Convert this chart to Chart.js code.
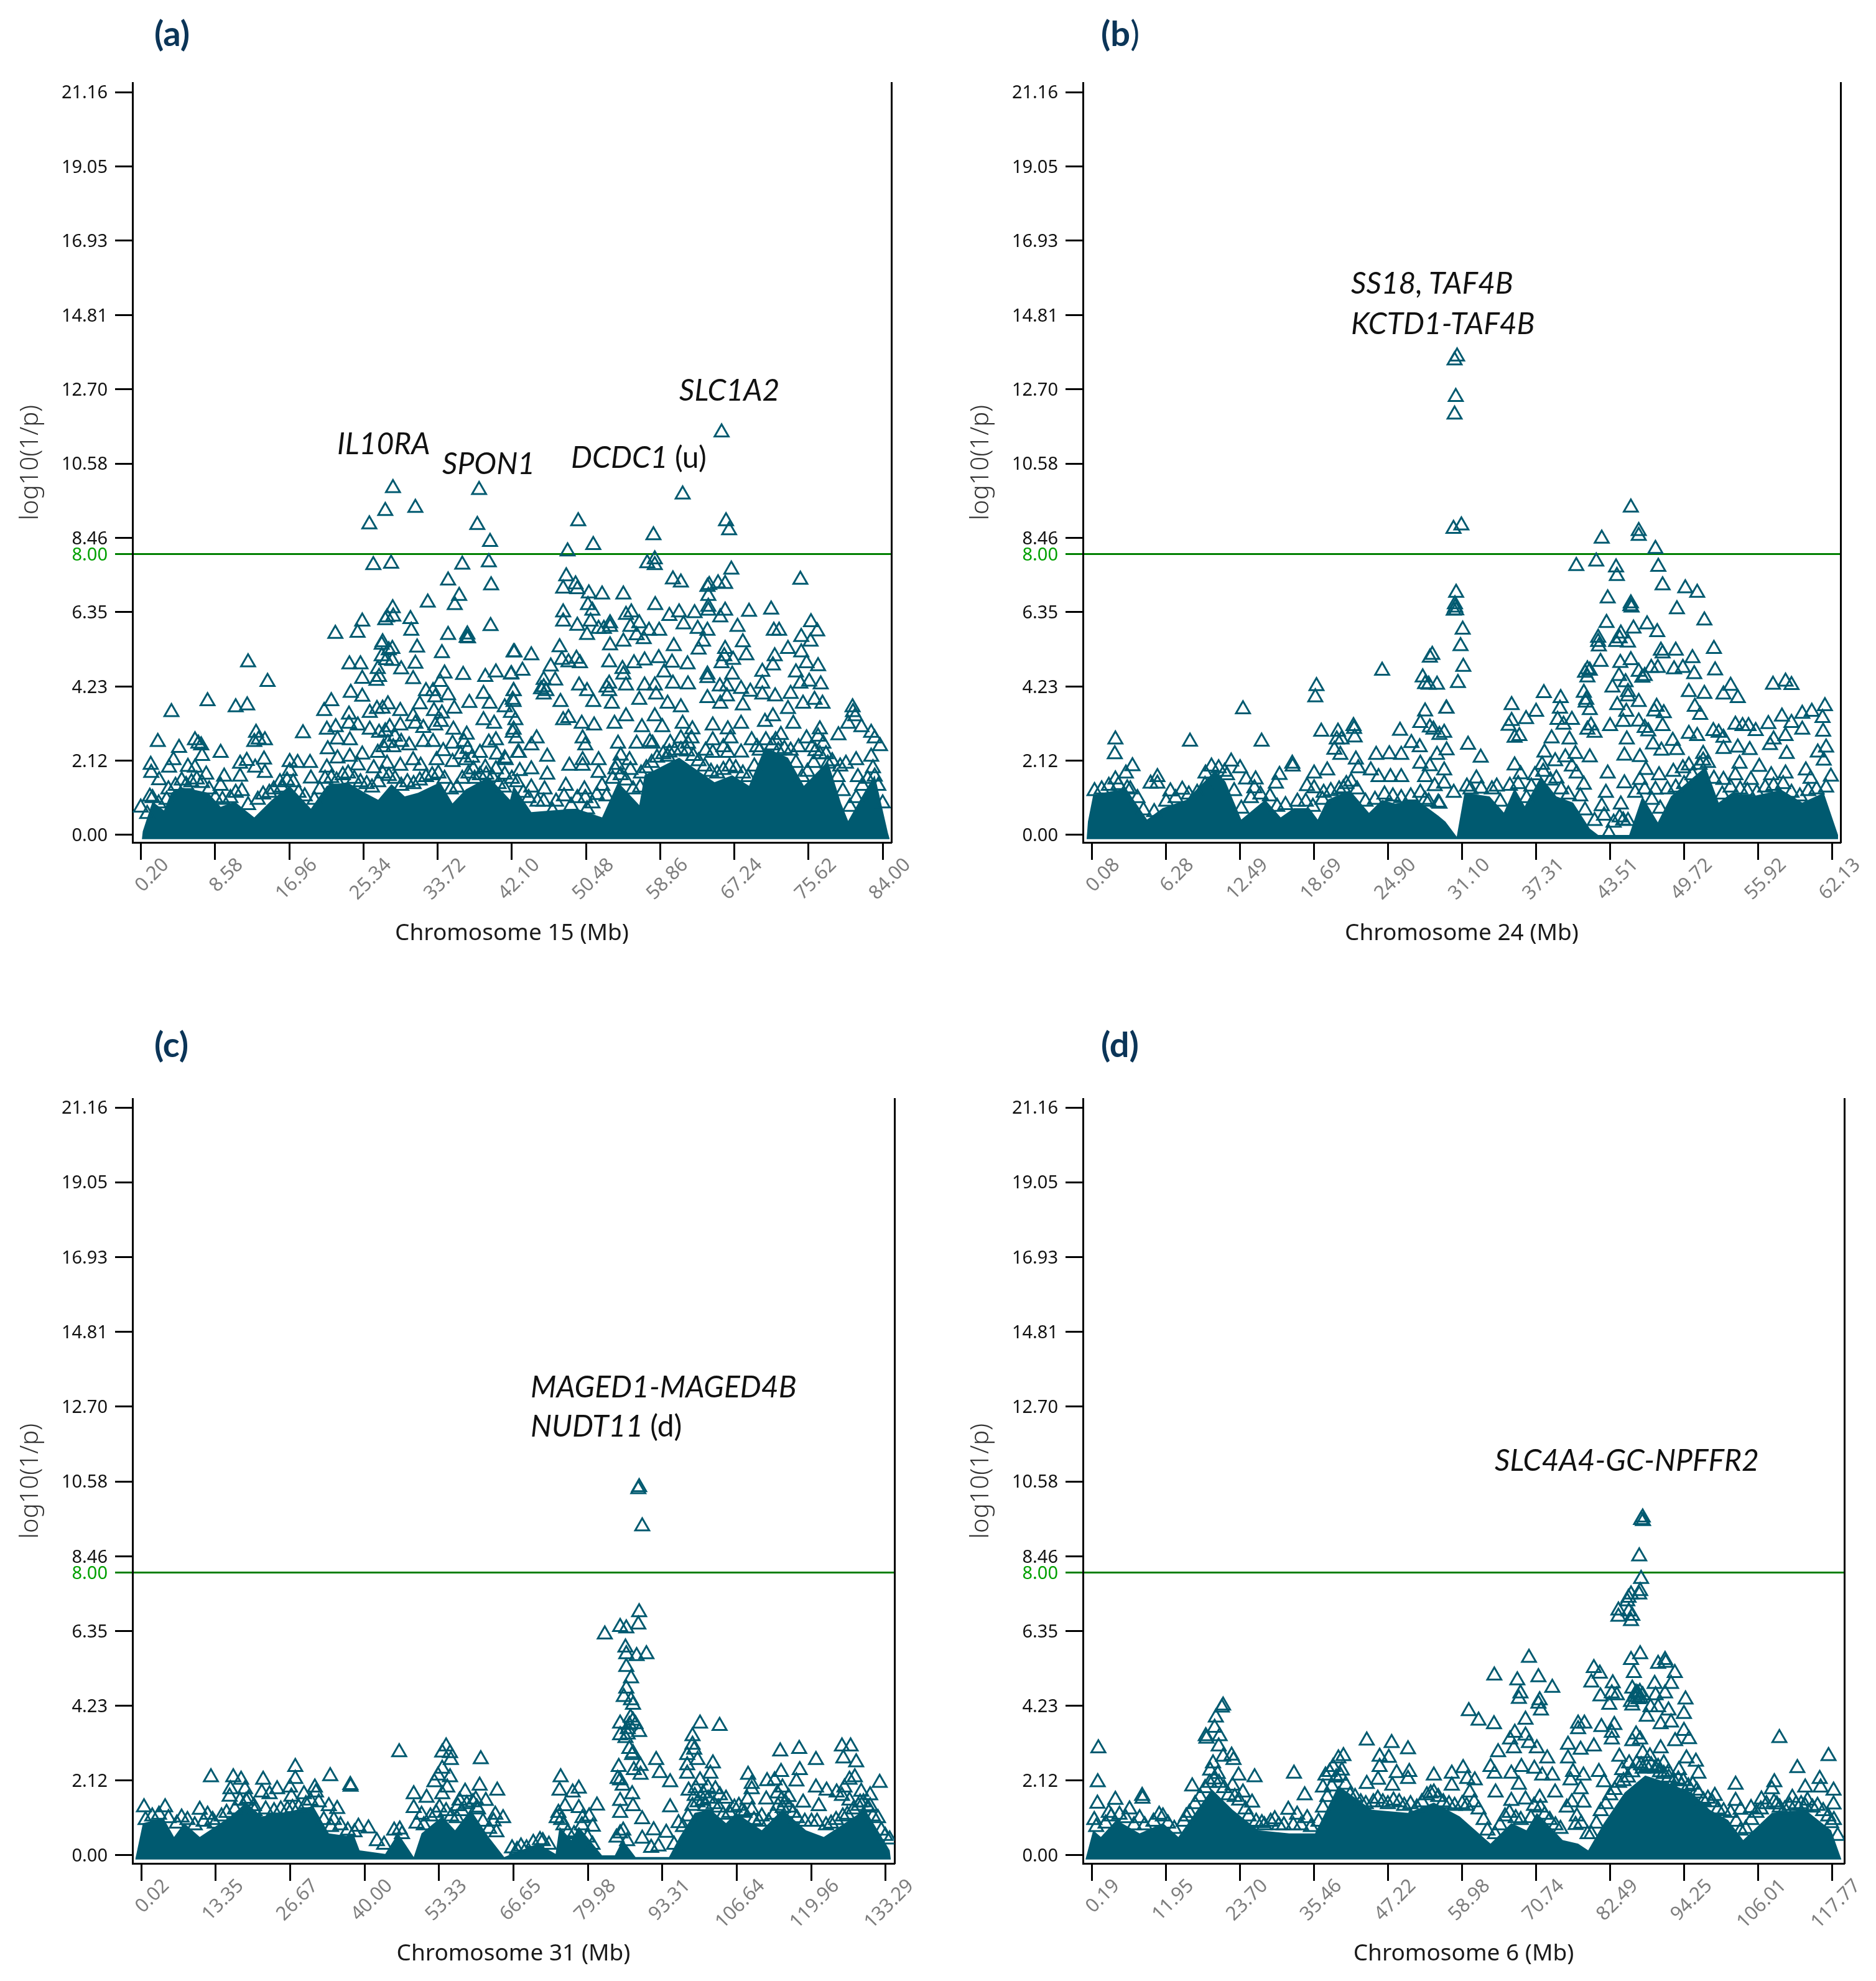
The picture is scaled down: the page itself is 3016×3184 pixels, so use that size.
<!DOCTYPE html>
<html>
<head>
<meta charset="utf-8">
<style>
html, body { margin: 0; background: #fff; }
#page { position: relative; width: 3016px; height: 3184px; overflow: hidden; }
canvas { position: absolute; }
.gene { position: absolute; font: italic 48px Lato, sans-serif; color: #111; white-space: nowrap; transform: translateY(-50%); }
.gene span { font-style: normal; }
.tag { position: absolute; font: bold 56px Lato, sans-serif; color: #0b3558; transform: translateY(-50%); }
.tag span { font-weight: normal; }
</style>
</head>
<body>
<div id="page">
  <canvas id="chartA"></canvas><canvas id="chartB"></canvas><canvas id="chartC"></canvas><canvas id="chartD"></canvas>
  <div class="tag" style="left:248px;top:52px">(a)</div>
  <div class="tag" style="left:1770px;top:52px">(b<span>)</span></div>
  <div class="tag" style="left:248px;top:1677px">(c)</div>
  <div class="tag" style="left:1770px;top:1677px">(d)</div>
  <div class="gene" style="left:542px;top:711px">IL10RA</div>
  <div class="gene" style="left:711px;top:743px">SPON1</div>
  <div class="gene" style="left:918px;top:733px">DCDC1 <span>(u)</span></div>
  <div class="gene" style="left:1092px;top:625px">SLC1A2</div>
  <div class="gene" style="left:2172px;top:453px">SS18, TAF4B</div>
  <div class="gene" style="left:2172px;top:518px">KCTD1-TAF4B</div>
  <div class="gene" style="left:853px;top:2227px">MAGED1-MAGED4B</div>
  <div class="gene" style="left:853px;top:2290px">NUDT11 <span>(d)</span></div>
  <div class="gene" style="left:2403px;top:2345px">SLC4A4-GC-NPFFR2</div>
</div>
<script src="https://cdn.jsdelivr.net/npm/chart.js@4"></script>
<script>
const yTicks = [21.16, 19.05, 16.93, 14.81, 12.70, 10.58, 8.46, 8.00, 6.35, 4.23, 2.12, 0.00];
const threshold = 8.00;

const xTicksA = [0.20, 8.58, 16.96, 25.34, 33.72, 42.10, 50.48, 58.86, 67.24, 75.62, 84.00];
const xTicksB = [0.08, 6.28, 12.49, 18.69, 24.90, 31.10, 37.31, 43.51, 49.72, 55.92, 62.13];
const xTicksC = [0.02, 13.35, 26.67, 40.00, 53.33, 66.65, 79.98, 93.31, 106.64, 119.96, 133.29];
const xTicksD = [0.19, 11.95, 23.70, 35.46, 47.22, 58.98, 70.74, 82.49, 94.25, 106.01, 117.77];

// Upper edge of the band where the triangles merge into solid colour. Single
// markers cannot be read inside it, so it is read off as one outline and filled.
const massA = [[0.3,-0.12],[0.4,0.1],[1.5,0.95],[2.8,0.7],[3.6,1.2],[4.7,1.35],[6,1.3],[7.8,1.2],[9.2,0.8],[10.8,0.95],[12,0.7],[13,0.5],[15,1],[17,1.4],[19.4,0.75],[21.2,1.4],[23.5,1.5],[25.5,1.2],[27,1],[28.5,1.45],[30,1.1],[31.5,1.2],[34,1.5],[35.4,0.9],[36.9,1.3],[39.5,1.65],[41.9,1],[42.3,1.4],[44.3,0.65],[46.7,0.7],[49.4,0.75],[52.3,0.5],[54.1,1.5],[56.5,0.85],[57.1,1.7],[61,2.2],[65,1.5],[67,1.7],[68.9,1.4],[70.7,2.5],[73.3,2.2],[75.1,1.4],[77.8,2.1],[79.3,0.9],[80.1,0.4],[81.9,1.2],[83.1,1.7],[84.6,0.05],[84.8,-0.12]];
const massB = [[-0.36,-0.12],[-0.25,0.38],[0.19,1.14],[2.93,1.33],[4.7,0.44],[6,0.76],[8,1],[10.4,1.83],[11.27,1.52],[12.6,0.44],[14.6,1],[15.9,0.5],[17,0.76],[18.3,0.76],[19,0.44],[19.8,1],[21.7,1.27],[23.3,0.63],[24.4,1],[25.5,0.89],[27.3,1],[29.1,0.55],[29.7,0.38],[30.65,-0.05],[31.3,1.2],[33.4,1.1],[34.6,0.64],[35.5,1.33],[36.35,0.82],[37.7,1.66],[39,1.1],[40.4,0.92],[41.8,0.18],[42.5,0],[45.1,0],[46.2,1.1],[47.5,0.36],[48.6,1.1],[51.5,1.94],[52.6,0.92],[53.7,1.2],[55.4,1.1],[57.85,1.29],[59.6,0.92],[61.4,1.2],[62.6,0],[62.6,-0.12]];
const massC = [[-1.05,-0.12],[0.33,0.91],[4,1.05],[5.9,0.52],[7.7,0.91],[10.5,0.52],[16,1.1],[18.8,1.49],[21.6,1.1],[25.3,1.2],[30.8,1.39],[33.6,0.62],[38.2,0.52],[39.1,0.14],[43.7,0.04],[46,0.62],[48.8,-0.05],[50.2,0.62],[53.9,1.1],[56.2,0.71],[59,1.29],[62.2,0.52],[65,-0.05],[71,0.33],[74.2,0.04],[74.9,0.81],[77,0.43],[78.35,0.81],[82.5,0],[84.8,0],[86.2,0.43],[88.5,-0.05],[94.5,-0.05],[96.4,0.52],[99.1,1.2],[101.9,1.3],[104.7,0.91],[106.5,1.2],[111.1,0.71],[114.8,1.3],[119,0.71],[122.2,0.52],[125,0.81],[129.6,1.3],[134,0.14],[134.2,-0.12]];
const massD = [[-0.8,-0.12],[0.43,0.71],[1.65,0.52],[4.1,1],[7.8,0.62],[11.5,0.91],[13.95,0.52],[19.25,1.87],[22.55,1.29],[26.65,0.71],[31.55,0.62],[35.65,0.62],[39.35,1.97],[44.65,1.29],[50.4,1.2],[54.5,1.49],[58.6,1.1],[63.5,0.33],[66.8,0.91],[69.2,0.71],[70.85,1.2],[74.95,0.43],[77.4,0.33],[79,0.14],[81.5,0.91],[84.8,1.78],[88.05,2.26],[91.35,2.07],[95.4,1.78],[98.3,1.29],[101.2,1],[103.6,0.43],[108.15,1.2],[113.45,1.29],[117.55,0.71],[119.2,-0.12]];

const snpsA = [[28.67,9.88],[27.8,9.23],[31.2,9.32],[26,8.85],[26.45,7.69],[28.46,7.73],[38.4,9.83],[38.2,8.83],[39.64,8.35],[39.5,7.77],[39.76,7.11],[36.5,7.7],[34.9,7.25],[36.15,6.81],[35.65,6.55],[32.6,6.62],[39.7,5.95],[28.64,6.46],[28,6.2],[28.7,6.22],[27.8,6.12],[30.65,6.15],[30.74,5.82],[25.2,6.08],[24.67,5.76],[22.16,5.73],[34.9,5.7],[37.07,5.71],[37,5.62],[37.15,5.6],[27.5,5.49],[27.4,5.42],[31.4,5.34],[34.2,5.18],[28.6,5.3],[28.2,5.26],[31.2,4.88],[27.4,5.09],[28.6,4.96],[27.9,4.98],[29.6,4.72],[23.75,4.86],[25,4.86],[26.95,4.73],[25.2,4.45],[26.8,4.39],[27.1,4.5],[30.95,4.44],[34.5,4.6],[36.6,4.56],[39.1,4.5],[40.3,4.63],[42.3,5.2],[42.05,4.58],[12.3,4.92],[14.5,4.36],[7.72,3.81],[3.64,3.5],[10.9,3.64],[12.2,3.69],[2.1,2.65],[4.5,2.48],[18.5,2.9],[21.7,3.81],[20.9,3.53],[23.9,4.05],[25.2,3.94],[1.3,2],[1.36,1.77],[2.25,1.56],[3.3,1.3],[3.37,1.92],[3.87,2.13],[1.2,1.09],[0.17,0.78],[5.5,1.94],[6.3,1.92],[7.57,1.72],[6.3,2.7],[6.68,2.6],[7.1,2.25],[7,2.55],[9.2,2.34],[9.6,1.66],[9.2,1.4],[11.4,2.03],[12.15,2.11],[11.4,1.66],[13.2,2.91],[13,2.65],[14.2,2.7],[13.5,2.72],[14.1,2.15],[13.1,1.92],[14.2,1.77],[17,2.08],[17.9,2.05],[19.3,2.05],[17,1.82],[15.9,1.5],[19.4,1.61],[21.2,3],[22.2,3.07],[21.3,2.44],[22.4,2.72],[23.8,2.7],[23.7,3.43],[23.7,3.17],[24.7,3.12],[26.05,3.48],[26.86,3.59],[27.5,3.6],[28.1,3.72],[29.5,3.53],[30.95,3.38],[31.7,3.72],[32.4,4.1],[33.2,4.1],[33.45,3.92],[34,4.36],[34.9,3.98],[35.6,3.6],[37.3,3.76],[38.9,4.02],[39.6,3.74],[33.3,3.53],[34.2,3.46],[31.2,3.17],[32.1,3.05],[33.45,3.12],[34.1,3.22],[35.5,3],[37,2.86],[38.9,3.27],[40.1,3.17],[39.5,2.63],[40.3,2.7],[41.3,3.64],[42.3,4.1],[42.2,3.85],[42,3.48],[42.5,3.27],[42.2,2.91],[26.05,3],[27.1,2.91],[27.8,2.95],[28.3,3.07],[28.9,2.8],[29.5,3.12],[25.2,2.29],[26.95,2.34],[27.6,2.5],[28.7,2.5],[28.1,2.62],[29.6,2.65],[30.5,2.55],[30.95,2.13],[32.1,2.65],[33.2,2.65],[34.35,2.39],[35.4,2.6],[36.7,2.65],[37.1,2.45],[36.3,2.3],[37.6,2.2],[38.5,2.34],[40.4,2.29],[41.3,2.18],[42.8,2.34],[26.5,1.9],[28,2.03],[29.5,1.97],[31.8,1.97],[33.6,2.13],[35.4,2.08],[36.9,2.13],[37.75,1.87],[39.1,1.92],[40.3,1.87],[41.3,1.72],[24.7,1.98],[23.8,2.23],[22.4,2.18],[21.2,1.92],[65.8,11.47],[61.4,9.7],[49.6,8.94],[51.3,8.26],[48.4,8.08],[58.1,8.54],[66.3,8.94],[66.65,8.68],[66.9,7.56],[74.7,7.27],[57.4,7.74],[58.25,7.85],[58.25,7.69],[48.25,7.37],[47.9,7.02],[49.3,7.14],[49.5,7],[50.8,6.88],[52.3,6.85],[54.7,6.85],[50.7,6.55],[51.2,6.39],[47.9,6.34],[47.9,6.08],[49.5,5.96],[51,6.08],[50.6,5.7],[51.9,5.87],[53.2,6.03],[53.2,5.93],[52.5,5.87],[55,6.27],[55.6,6.34],[55.5,5.93],[56.5,6.03],[56.2,5.69],[57,5.58],[57.6,5.82],[58.75,5.82],[58.3,6.55],[59.9,6.24],[61,6.34],[62.75,6.32],[60.3,7.28],[61.2,7.19],[64.2,7.07],[64.4,7.12],[65.4,7.17],[66.2,7.15],[64.3,6.81],[64.3,6.5],[64.3,6.39],[66.2,6.39],[65.65,6.2],[61.5,6],[63.1,5.87],[64.2,5.82],[67.6,5.93],[68.9,6.36],[71.4,6.42],[71.7,5.82],[72.3,5.82],[75.9,6.06],[76.6,5.8],[75.85,5.51],[74.8,5.64],[73.3,5.3],[74.8,5.2],[68.2,5.49],[68.6,5.12],[63.7,5.51],[63.2,5.28],[60.4,5.38],[53.2,5.4],[47.5,5.35],[54.7,5.51],[47.75,4.99],[49.4,5.02],[48.5,4.92],[49.8,4.89],[53.1,4.92],[55.9,4.89],[57.1,4.97],[58.7,5.04],[60.2,4.91],[61.95,4.86],[66.2,5.3],[66.1,5.09],[65.8,4.89],[67.1,4.99],[71.8,5.09],[71.6,4.83],[70.4,4.65],[75.4,4.89],[76.7,4.81],[74.2,4.63],[42.4,5.2],[44.3,5.12],[46.5,4.8],[43.3,4.68],[42,4.57],[54.6,4.73],[54.7,4.57],[59.3,4.63],[64.2,4.57],[67,4.57],[45.7,4.42],[47,4.4],[45.7,4.21],[45.7,4],[46,4.1],[45.4,4.15],[49.7,4.26],[53.1,4.31],[53.1,4.1],[52.8,4.2],[55,4.26],[57.1,4.26],[58.25,4.26],[60.3,4.31],[62,4.29],[64.2,4.47],[65.6,4.23],[66.4,4.23],[68,4.16],[69.05,4.08],[70.4,4.31],[74.7,4.31],[75.7,4.37],[77,4.29],[73.6,4.02],[70.4,4],[71.85,3.95],[75,3.74],[76.3,3.85],[77.2,3.74],[42.3,4.1],[42.3,3.79],[47.6,3.79],[51.3,3.79],[50.6,4.1],[53.4,3.74],[56.5,3.85],[58.4,4],[59.7,3.74],[61.2,3.64],[64.2,3.9],[65.65,3.74],[66.4,3.95],[68.2,3.69],[73.3,3.59],[80.6,3.64],[80.65,3.5],[80.9,3.38],[80.1,3.17],[81.6,3.07],[79,2.84],[82.7,2.91],[83.1,2.75],[83.7,2.53],[42.3,3],[42.6,2.75],[44.9,2.75],[47.9,3.27],[48.5,3.33],[50,3.17],[51.4,3.12],[50.1,2.75],[50.4,2.55],[53.7,3.17],[55,3.38],[56.8,3.07],[58.25,3.38],[59.1,3.07],[61.4,3.17],[62.5,3.01],[64.8,3.12],[66.5,3.01],[68,3.17],[70.7,3.22],[71.6,3.38],[73.9,3.17],[76.9,3.01],[61.2,2.75],[62.4,2.75],[64.8,2.7],[66.8,2.75],[69.2,2.7],[71.9,2.7],[75.4,2.75],[76.7,2.8],[54.1,2.6],[56.2,2.6],[57.7,2.65],[46.1,2.23],[41.4,2.13],[42.9,2.34],[44.3,2.55],[50.1,2.13],[51.9,2.13],[54.4,2.26],[55.4,2.13],[59.7,2.23],[64.8,2.34],[66.5,2.34],[76.4,2.39],[77.8,2.03],[79.85,2.03],[81,2.13],[82.7,2.23],[83.1,1.66],[43,1.82],[44.3,1.87],[46.1,1.72],[48.6,1.97],[50.1,1.97],[51.9,1.77],[53.8,1.87],[48.2,1.4],[50.3,1.3],[45.8,1.3],[44.3,1.35],[52.3,1.4],[51.7,1.14],[48.8,0.83],[46.7,0.68],[50.6,0.73]];
const lowA = [[0.9,0.6],[1.5,1.05],[2.2,0.9],[3.1,1.0],[4.1,1.4],[4.8,1.55],[5.3,1.42],[5.9,1.5],[6.5,1.58],[7.1,1.48],[7.9,1.3],[8.6,1.05],[9.4,1.0],[10.3,1.05],[10.9,1.2],[11.6,1.25],[12.3,0.85],[13.4,1.0],[14,1.15],[14.7,1.2],[15.2,1.3],[16.1,1.35],[16.7,1.55],[17.4,1.5],[18,1.2],[18.7,1.1],[19.8,1.0],[20.4,1.3],[21,1.6],[21.7,1.62],[22.3,1.55],[23,1.7],[23.6,1.75],[24.3,1.6],[25,1.5],[25.7,1.45],[26.3,1.35],[27,1.5],[27.5,1.75],[28.2,1.68],[28.9,1.6],[29.6,1.4],[30.3,1.5],[31,1.45],[31.7,1.55],[32.4,1.65],[33.1,1.7],[33.8,1.75],[34.5,1.6],[35.2,1.3],[35.9,1.35],[36.5,1.6],[37.2,1.75],[37.9,1.6],[38.5,1.7],[39.2,1.72],[39.9,1.65],[40.6,1.45],[41.2,1.35],[42.1,1.6],[42.7,1.5],[43.4,1.2],[44,1.05],[45,0.95],[45.7,0.95],[47.1,0.95],[48,1.1],[49.5,1.05],[50.4,1.05],[51.2,0.9],[52.8,1.1],[53.5,1.6],[54.4,1.7],[55,1.55],[55.8,1.3],[56.6,1.35],[57.3,1.9],[57.9,2.05],[58.5,2.2],[59.2,2.3],[59.9,2.35],[60.5,2.4],[61.2,2.42],[61.9,2.38],[62.6,2.25],[63.2,2.1],[63.9,1.95],[64.6,1.8],[65.3,1.75],[66,1.85],[66.7,1.95],[67.4,1.9],[68.2,1.75],[68.8,1.65],[69.5,1.95],[70.1,2.4],[70.8,2.7],[71.5,2.55],[72.2,2.4],[72.9,2.45],[73.6,2.4],[74.2,2.05],[74.9,1.65],[75.5,1.8],[76.2,2.05],[76.9,2.3],[77.6,2.3],[78.3,2.1],[78.9,1.65],[79.5,1.25],[80.3,0.8],[81,1.05],[81.7,1.4],[82.3,1.6],[82.9,1.9],[83.5,1.4],[84,0.9],[54,2],[55.5,1.85],[56.7,1.75],[58,2.6],[60,2.62],[62,2.6],[64,2.4],[66,2.5],[68,2.35],[69.8,2.5],[72.5,2.85],[74.5,2.5],[76,2.5],[77.3,2.6],[79.2,1.95],[81.2,1.65]];

const snpsB = [[2.05,2.72],[2,2.3],[3.48,1.96],[2.93,1.75],[2.05,1.58],[3.04,1.33],[8.3,2.66],[5.57,1.65],[5,1.46],[5.57,1.46],[12.74,3.58],[14.3,2.66],[11.75,2.09],[12.5,1.9],[13.8,1.58],[13,1.58],[13.7,1.33],[11.2,1.8],[9.56,1.42],[7.65,1.29],[6.66,1.24],[16.87,2.03],[16.9,1.95],[15.8,1.71],[15.5,1.46],[18.9,4.24],[18.8,3.92],[19.3,2.94],[20.7,2.94],[20.6,2.72],[21,2.72],[20.4,2.43],[20.9,2.28],[22,3.1],[22.05,3.02],[22.1,2.78],[22.2,2.15],[22.4,1.9],[18.7,1.75],[19.8,1.84],[18.1,1.39],[18.7,1.33],[19.5,1.2],[21.15,1.33],[21.8,1.52],[24.4,4.68],[23.9,2.28],[25,2.3],[26,2.28],[23.45,1.84],[24.1,1.65],[25.1,1.65],[26,1.65],[25.9,2.97],[26.85,2.62],[27.55,2.5],[27.8,4.49],[28,4.3],[28.3,4.28],[29,4.28],[28.6,5.13],[28.4,5.05],[29.8,3.6],[28,3.52],[27.6,3.19],[28.4,3.06],[28.7,3],[29.6,2.91],[29.2,2.85],[27.6,2.03],[28.4,1.96],[28,1.65],[29,2.28],[29.8,2.41],[29.6,1.84],[28.8,1.39],[29.6,1.46],[28.3,0.95],[29.2,0.89],[30.68,13.63],[30.47,13.52],[30.57,12.48],[30.47,11.98],[30.38,8.72],[31.04,8.82],[30.6,6.9],[30.5,6.57],[30.52,6.48],[30.4,6.39],[30.6,6.4],[31.15,5.85],[30.97,5.38],[31.2,4.79],[30.75,4.33],[29.77,3.6],[31.6,2.57],[32.66,2.2],[45.24,9.33],[45.9,8.66],[45.9,8.52],[42.8,8.44],[47.3,8.15],[40.67,7.66],[42.34,7.79],[44,7.62],[44.07,7.38],[47.54,7.64],[47.9,7.11],[49.8,7.03],[50.8,6.9],[43.3,6.74],[45.24,6.6],[45.2,6.52],[45.3,6.48],[49.1,6.43],[43.2,6.04],[51.4,6.11],[44.4,5.74],[44.3,5.6],[45.46,5.88],[46.6,6],[47.45,5.78],[44,5.5],[45,5.48],[42.5,5.5],[42.56,5.37],[42.5,5.62],[52.2,5.3],[47.76,5.25],[47.9,5.17],[49,5.25],[50.4,5.04],[45.24,4.98],[44.36,4.9],[42.7,4.93],[41.6,4.72],[41.4,4.62],[41.8,4.68],[41.6,4.49],[46.95,4.76],[47.5,4.76],[48.86,4.72],[49.6,4.76],[45.9,4.65],[46.4,4.53],[46.2,4.48],[50.55,4.58],[52.3,4.69],[44.25,4.53],[43.7,4.2],[44.8,4.35],[45,4.07],[45,3.95],[50.1,4.07],[51.4,4.02],[53.6,4.25],[53,4],[54.2,3.9],[57.15,4.28],[58.2,4.37],[58.7,4.27],[37.95,4.04],[35.25,3.7],[37.3,3.51],[39.36,3.9],[41.3,4.05],[41.45,3.77],[41.5,3.85],[41.8,3.56],[44.1,3.7],[45.9,3.79],[44.86,3.51],[50.6,3.65],[51.05,3.42],[47.4,3.65],[47.2,3.52],[48,3.47],[35.25,3.25],[35,3.11],[36.46,3.3],[35.5,2.77],[35.9,2.82],[38.6,2.75],[39.1,3.28],[39.3,3.6],[39.6,3.14],[40.3,3.28],[41.6,3],[41.9,3.12],[42.2,2.91],[43.5,3.1],[44.6,3.22],[45.9,3.23],[46.4,3.05],[46.7,2.95],[47.9,3.1],[48.75,2.68],[50.1,2.88],[50.8,2.82],[52.15,2.96],[52.6,2.91],[53,2.77],[54,3.14],[54.6,3.1],[55.1,3.1],[55.7,2.96],[56.76,3.16],[57.9,3.37],[58.7,3.19],[59.6,3.45],[60.4,3.51],[61.5,3.67],[61.3,3.33],[59.6,3],[61.35,2.94],[58.2,2.82],[57.2,2.72],[56.9,2.56],[49.1,2.42],[51.3,2.31],[53,2.45],[54.2,2.49],[55.2,2.42],[44.9,2.72],[44.7,2.26],[47.1,2.58],[47.8,2.4],[46,2.22],[41.8,2.21],[40.6,2.31],[40.1,2.72],[39.75,2.21],[35.5,1.98],[37.8,2],[36,1.73],[51.3,2.12],[50.1,1.98],[54.35,2.03],[56,1.94],[58.3,2.31],[60.9,2.35],[61.6,2.49],[61.4,2.12],[59.9,1.84],[62,1.66],[55.3,1.57],[53,1.57],[54,1.7],[43.3,1.75],[43.15,1.2],[41.3,1.43],[39,1.61],[32.3,1.61],[34,1.38],[31.5,1.38],[36.9,1.38],[42.8,0.82],[44.6,0.41],[43.4,0.04],[44.4,0.87],[47.3,1.29],[46,1.57],[44.7,1.47],[29.1,0.92],[30.4,1.2]];
const lowB = [[0.3,1.25],[0.9,1.3],[1.5,1.4],[2.3,1.42],[3.3,1.3],[3.9,1.05],[4.4,0.7],[5.3,0.65],[6.3,0.95],[7.1,1.05],[8.2,1.15],[8.9,1.2],[9.6,1.75],[10.1,1.95],[10.7,1.9],[11.4,1.7],[12,1.25],[12.6,0.75],[13.4,1.05],[14.2,1.15],[15,1.1],[15.6,0.8],[16.3,0.85],[17.3,0.95],[18,0.95],[18.6,0.8],[19.4,1],[20.1,1.25],[20.8,1.3],[21.4,1.45],[22.3,1.3],[23,0.95],[23.8,1],[24.6,1.15],[25.3,1.1],[26,1.05],[26.8,1.1],[27.6,1.2],[28,1.0],[31.8,1.3],[32.7,1.32],[33.6,1.3],[34.3,0.95],[35.1,1.4],[35.8,1.45],[36.5,1.05],[37.2,1.7],[37.9,1.8],[38.5,1.55],[39.4,1.3],[40,1.15],[40.7,1.75],[41,1.1],[41.4,0.7],[42.2,0.4],[43,0.55],[43.8,0.35],[44.3,0.5],[45,0.4],[45.6,1.2],[46.4,1.3],[47,1],[47.7,0.75],[48.3,1.3],[49,1.35],[49.7,1.45],[50.4,1.7],[51,2],[51.7,2.05],[52.2,1.6],[52.9,1.15],[53.6,1.35],[54.4,1.3],[55,1.25],[55.8,1.2],[56.5,1.35],[57.2,1.4],[58,1.45],[58.7,1.2],[59.4,1.1],[60.1,1.25],[60.8,1.3],[61.6,1.35],[46.5,1.85],[47.6,1.7],[48.8,1.8],[49.6,1.9],[38,2.35],[38.9,2.1],[40.3,1.95],[57,1.7],[58.2,1.75],[60.3,1.6]];

const snpsC = [[89.15,10.42],[89,10.36],[89.7,9.31],[89.15,6.88],[89,6.53],[85.75,6.46],[86.85,6.42],[83,6.25],[86.7,5.88],[86.85,5.69],[88.7,5.64],[90.45,5.69],[86.85,5.33],[87.7,5.01],[86.85,4.72],[86.4,4.48],[87.7,4.39],[88.05,4.26],[87.6,3.9],[85.75,3.73],[88.05,3.81],[87.4,3.69],[88.5,3.71],[87.1,3.57],[89.15,3.49],[85.75,3.4],[87.1,3.42],[86.7,3.32],[87.4,3.01],[88.05,2.89],[87.9,2.84],[85.5,2.5],[89.4,2.53],[88.2,2.41],[89.4,2.28],[85.3,2.16],[85.75,2.12],[86.2,1.97],[87.9,1.73],[85.75,1.54],[88.05,1.39],[85.75,1.2],[89.7,1.02],[85.75,0.62],[89.7,0.47],[91.75,0.71],[94,0.64],[91.3,0.21],[92.2,2.7],[92.85,2.33],[94.7,2.07],[94.7,1.36],[96.2,0.91],[100.05,3.73],[103.55,3.66],[98.7,3.37],[98.7,3.13],[99,2.99],[97.75,2.84],[99.6,2.7],[97.75,2.55],[102.35,2.6],[97.75,2.31],[100.05,2.12],[101.9,2.31],[98,1.83],[101.45,1.92],[102.8,1.87],[99.1,1.68],[104.7,1.6],[101,1.39],[114.4,2.94],[117.8,3.01],[120.8,2.7],[125.45,3.08],[127,3.08],[125.7,2.74],[128,2.63],[117.9,2.41],[114.55,2.36],[108.65,2.28],[117.3,2.09],[112.05,2.1],[109.3,2.02],[109.3,1.87],[113.4,2.12],[114.8,1.92],[120.8,1.92],[122.7,1.83],[127.75,2.21],[126.8,2.14],[132.2,2.05],[125.9,1.92],[124.5,1.78],[125.45,1.68],[130.5,1.7],[111.9,1.58],[108.55,1.58],[118.5,1.49],[121.3,1.39],[114.65,1.58],[128.7,1.49],[130.5,1.39],[131.9,1.05],[109.3,1.29],[107.6,1.25],[114.85,1.34],[116.7,1.2],[125.6,1.1],[111.1,1.1],[0.52,1.36],[4.3,1.36],[12.5,2.21],[16.5,2.21],[17.9,2.14],[21.85,2.14],[27.6,2.5],[27.6,2.16],[26.65,1.92],[33.85,2.24],[37.45,1.99],[37.5,1.94],[46.2,2.92],[53.9,2.91],[54.6,3.08],[55.3,2.89],[55.45,2.7],[60.8,2.72],[53.9,2.45],[53.15,2.26],[52.5,2.07],[55.3,2.21],[54.8,1.92],[48.8,1.73],[51.1,1.63],[53.9,1.73],[58,1.8],[60.6,1.97],[63.75,1.83],[61.7,1.54],[48.8,1.34],[50.2,1.15],[59.9,1.58],[63.4,1.15],[64.8,1.05],[63.1,0.96],[56.7,1.39],[16,1.87],[15.85,1.66],[18.6,1.87],[21.6,1.78],[23,1.73],[24.35,1.87],[26.9,1.66],[29.15,1.73],[31.1,1.92],[31.3,1.78],[33.6,1.39],[35.1,1.31],[10.5,1.29],[7.25,1.07],[11.9,1.15],[12.8,1],[27.1,1.34],[18.8,1.54],[20.2,1.39],[34.5,1],[38.9,0.81],[40.7,0.76],[46.3,0.73],[75.1,2.21],[74.9,1.83],[78.35,1.89],[77.25,1.78],[75.9,1.39],[78.35,1.34],[81.6,1.41],[74.4,1.05],[79,1.05],[80.2,1.1],[74.7,1.2],[80.85,0.81],[71.4,0.43],[67.3,0.15],[69,0.2],[73,0.3]];
const lowC = [[0.8,1],[2,1.1],[3.2,1.15],[4.9,1.05],[6.4,0.9],[8.3,1],[9.6,0.85],[11.2,0.95],[13.2,0.9],[14.4,1.1],[15.3,1.2],[16.8,1.3],[17.7,1.55],[19.2,1.6],[20.3,1.25],[22.3,1.3],[23.8,1.25],[25,1.3],[26.2,1.3],[28.2,1.35],[29.5,1.45],[30.3,1.55],[31.8,1.5],[32.7,1],[34,0.8],[35.7,0.85],[37,0.7],[38.2,0.65],[42.2,0.4],[43.5,0.3],[45.3,0.7],[46.7,0.6],[49.3,0.9],[50.6,0.85],[51.8,1.1],[52.8,1.2],[53.4,1.35],[54.6,1.25],[55.5,1.1],[56.5,1.05],[57.4,1.25],[58.3,1.45],[59.4,1.5],[60.3,1.3],[61.2,0.95],[62.3,0.75],[63.6,0.65],[66.4,0.2],[68,0.25],[70.2,0.35],[71.9,0.4],[75.2,1],[75.6,0.85],[76.4,0.65],[77.5,0.6],[78.9,0.85],[79.9,0.5],[80.8,0.3],[85.1,0.5],[86.3,0.7],[87,0.4],[92.6,0.25],[95.4,0.3],[97,0.8],[97.9,1.1],[98.7,1.4],[99.6,1.5],[100.6,1.55],[101.5,1.6],[102.5,1.45],[103.4,1.35],[104.2,1.15],[105.3,1.2],[106.2,1.35],[107,1.4],[108,1.2],[109.7,1],[110.6,0.95],[112.3,0.95],[113.2,1.15],[114,1.4],[115.3,1.5],[116,1.35],[117.4,1.05],[118.8,0.95],[120,0.95],[121,0.95],[122.6,0.85],[123.5,0.9],[124.4,1],[126.4,1.15],[127.5,1.3],[128.4,1.4],[129.3,1.5],[130.1,1.35],[131,1.1],[132.5,0.7],[133.2,0.55],[134,0.45],[99.3,1.9],[100.6,1.75],[103.6,1.7],[113.9,1.75],[115.9,1.65],[126.8,1.55],[128.9,1.8],[57,1.55],[60.1,1.35]];

const snpsD = [[87.65,9.56],[87.4,9.49],[87.7,9.46],[87.1,8.46],[87.4,7.82],[87.25,7.48],[87.1,7.38],[85.4,7.29],[85.8,7.38],[85.2,7.19],[83.8,6.93],[83.8,6.75],[85.45,6.9],[86,6.78],[85.8,6.63],[87.25,5.69],[85.8,5.53],[90.1,5.42],[91.2,5.53],[91.3,5.45],[79.9,5.3],[80.85,5.14],[86.25,5.16],[92.75,5.16],[69.6,5.59],[64.1,5.09],[67.75,4.95],[71.1,5.04],[73.3,4.74],[79.5,4.89],[82.9,4.87],[89.55,4.85],[92.15,4.85],[68.25,4.58],[68,4.43],[71.3,4.39],[71.1,4.29],[71.5,4.1],[80.95,4.5],[82.75,4.58],[83.55,4.53],[86,4.72],[86.85,4.58],[87.2,4.62],[86.4,4.48],[87.65,4.53],[87,4.42],[86.6,4.6],[87.3,4.45],[85.8,4.34],[89.7,4.53],[91.2,4.58],[82.35,4.26],[86,4.24],[88.9,4.19],[90.1,4.19],[94.45,4.41],[94.2,4],[91.75,4.1],[88.3,3.92],[60.05,4.08],[61.6,3.81],[64.05,3.71],[69.05,3.84],[77.4,3.73],[78.4,3.73],[81.1,3.63],[83.15,3.69],[90.5,3.71],[92.15,3.76],[67.35,3.47],[69.05,3.39],[66.6,3.28],[82.75,3.47],[77.4,3.57],[86.6,3.42],[94.2,3.52],[95,3.29],[82.75,3.28],[86,3.23],[87.25,3.28],[92.8,3.23],[69.6,3.18],[70.85,3.03],[67.2,3.03],[75.8,3.13],[77.8,2.99],[79.9,3.08],[90.5,3.03],[83.95,2.79],[87.65,2.89],[1.25,3.03],[1.15,2.07],[1.1,1.46],[0.6,1],[3.95,1.57],[8.2,1.68],[8.25,1.6],[2.9,1.2],[6.2,1.3],[7.8,1.05],[11.5,1.1],[15.2,1.1],[16.15,1.95],[21.05,4.24],[20.85,4.18],[19.9,3.9],[19.7,3.61],[18.3,3.37],[18.4,3.3],[20.5,3.37],[20.35,3.08],[21.05,2.79],[22.4,2.82],[22.7,2.7],[19.45,2.6],[23.5,2.26],[26.05,2.21],[22.55,1.97],[24.2,1.78],[25.65,1.49],[27.2,0.91],[29.25,1.02],[32.3,2.31],[34,1.7],[31.4,1.29],[32.8,1.15],[34.4,1.05],[43.85,3.25],[47.8,3.18],[50.4,3],[40.15,2.81],[39.35,2.74],[45.9,2.79],[47.35,2.76],[45.9,2.5],[37.95,2.36],[37.3,2.26],[48.6,2.33],[50.6,2.36],[45.65,2.14],[43.85,2.02],[54.5,2.26],[57.35,2.31],[59.15,2.47],[59.8,2.16],[61,2.12],[63.5,2.5],[64.7,2.92],[64.15,2.31],[66.8,2.31],[68.4,2.5],[70.45,2.45],[72.5,2.74],[71.7,2.26],[73.3,2.26],[68,2],[57.35,1.97],[50.4,2.16],[47.9,1.97],[36.9,1.92],[54.5,1.78],[60.2,1.78],[64.3,1.78],[66.8,1.54],[69.05,1.58],[71.3,1.63],[73.75,1.78],[76.2,2.12],[77.8,1.87],[78.25,1.49],[77,0.86],[75.8,2.74],[76.6,2.36],[78.25,2.26],[80.7,2.36],[81.5,2.07],[84.4,2.41],[87.65,2.45],[90.1,2.5],[91.75,2.36],[93.4,2.41],[94.6,2.74],[96.1,2.65],[96.5,2.31],[93.8,1.97],[96.25,1.83],[99.1,1.68],[102.4,2],[102.4,1.54],[103.2,1.29],[109.35,3.32],[112.2,2.47],[117.15,2.81],[115.75,2.16],[117.95,1.83],[108.55,2.07],[108.15,1.87],[113.45,1.92],[115.9,1.92],[106.5,1.58],[104.85,1.34],[108.95,1.44],[111.4,1.63],[117.95,1.44],[113.45,1.39],[117.55,0.91]];
const lowD = [[0.9,0.8],[2.4,0.9],[3.3,1.1],[4.6,1.15],[5.6,1.05],[6.9,0.85],[8.6,0.85],[10,0.95],[10.9,1.15],[12.3,0.9],[13.3,0.75],[14.8,0.95],[15.7,1.2],[16.6,1.45],[17.4,1.65],[18.2,1.9],[18.9,2.05],[19.6,2.15],[20.4,2.05],[21.2,1.9],[21.9,1.7],[22.9,1.65],[23.6,1.55],[24.6,1.3],[25.1,1.1],[26.3,0.95],[27.6,0.85],[28.6,0.95],[29.9,0.85],[30.7,0.85],[32.2,0.85],[33.4,0.85],[35,0.8],[36.2,0.95],[36.9,1.35],[37.6,1.65],[38.3,1.95],[39,2.2],[39.7,2.25],[40.5,2],[41.2,1.7],[42,1.65],[42.9,1.5],[43.7,1.45],[44.9,1.5],[45.6,1.6],[46.4,1.5],[47.2,1.45],[48.1,1.55],[49,1.5],[49.8,1.4],[50.8,1.45],[51.8,1.35],[52.6,1.5],[53.4,1.7],[54,1.75],[55.2,1.65],[56,1.5],[56.9,1.45],[57.8,1.4],[59,1.45],[59.7,1.4],[60.9,1.5],[61.6,1.3],[62.4,1],[63,0.7],[64.2,0.6],[65,0.85],[65.8,1.1],[66.5,1.2],[67.5,1.05],[68.3,1],[69.9,1.05],[70.4,1.4],[71.4,1.35],[72.1,1.15],[72.9,1],[73.8,0.85],[74.6,0.75],[75.6,1.35],[76.4,1.5],[77.2,1.1],[77.9,0.9],[78.9,0.6],[79.5,0.6],[80.3,0.9],[81,1.25],[81.8,1.45],[82.5,1.7],[83.2,1.85],[83.9,2.05],[84.6,2.1],[85.3,2.2],[86,2.35],[86.7,2.6],[87.4,2.55],[88.3,2.5],[89,2.55],[89.7,2.45],[90.4,2.35],[91,2.3],[91.8,2.2],[92.6,2.1],[93.3,2.15],[94.1,2.1],[94.9,1.95],[95.6,2],[96.5,1.75],[97.3,1.55],[98,1.6],[98.7,1.5],[99.6,1.3],[100.5,1.25],[101.6,1.2],[102.5,0.95],[103.2,0.7],[104,0.75],[104.9,1],[105.7,1.2],[106.4,1.3],[107.3,1.45],[108.5,1.5],[109.4,1.35],[110.2,1.3],[111,1.4],[112,1.45],[112.8,1.45],[113.8,1.55],[114.6,1.35],[115.4,1.4],[116.3,1.25],[117.1,1.1],[118,1],[118.6,0.55],[39.9,2.4],[38.5,2.5],[19,2.4],[20.2,2.3],[88.8,2.8],[85.5,2.6],[91,2.6]];

const teal = '#005a70';
const green = '#008000';

function toXY(list) {
  return list.map(function(p) { return { x: p[0], y: p[1] }; });
}

function makePanel(id, canvasBox, area, xRange, yRange, xTicks, xTitle, titleGap, mass, snps) {
  const canvas = document.getElementById(id);
  canvas.width = canvasBox.w;
  canvas.height = canvasBox.h;
  canvas.style.left = canvasBox.l + 'px';
  canvas.style.top = canvasBox.t + 'px';

  new Chart(canvas, {
    type: 'scatter',
    data: {
      datasets: [
        {
          type: 'line',
          data: toXY(mass),
          borderWidth: 0,
          pointRadius: 0,
          backgroundColor: teal,
          fill: { value: -0.12 },
          order: 2
        },
        {
          data: toXY(snps),
          pointStyle: 'triangle',
          pointRadius: 13,
          pointBorderWidth: 3,
          pointBorderColor: teal,
          pointBackgroundColor: 'rgba(0,0,0,0)',
          order: 1
        }
      ]
    },
    options: {
      responsive: false,
      animation: false,
      devicePixelRatio: 1,
      layout: { padding: { top: area.top - canvasBox.t, left: 0, right: 0, bottom: 0 } },
      plugins: { legend: { display: false }, tooltip: { enabled: false } },
      scales: {
        x: {
          type: 'linear',
          min: xRange[0],
          max: xRange[1],
          afterBuildTicks: function(s) { s.ticks = xTicks.map(function(v) { return { value: v }; }); },
          afterFit: function(s) { s.height = canvasBox.t + canvasBox.h - area.bottom; },
          border: { color: '#000', width: 3 },
          grid: { drawOnChartArea: false, tickLength: 28, tickColor: '#000', tickWidth: 3 },
          ticks: {
            autoSkip: false,
            minRotation: 45,
            maxRotation: 45,
            padding: -10,
            labelOffset: 40,
            color: '#7d7d7d',
            font: { family: 'Noto Sans', size: 31 },
            callback: function(v) { return Number(v).toFixed(2); }
          },
          title: {
            display: true,
            text: xTitle,
            color: '#1a1a1a',
            font: { family: 'Noto Sans', size: 37 },
            padding: { top: 0, bottom: titleGap }
          }
        },
        y: {
          min: yRange[0],
          max: yRange[1],
          afterBuildTicks: function(s) { s.ticks = yTicks.map(function(v) { return { value: v }; }); },
          afterFit: function(s) { s.width = area.left - canvasBox.l; },
          border: { color: '#000', width: 3 },
          grid: {
            tickLength: 28,
            lineWidth: 3,
            tickWidth: 3,
            color: function(c) { return c.tick && c.tick.value === threshold ? green : 'rgba(0,0,0,0)'; },
            tickColor: function(c) { return c.tick && c.tick.value === threshold ? green : '#000'; }
          },
          ticks: {
            autoSkip: false,
            padding: 12,
            labelOffset: 2,
            font: { family: 'Noto Sans', size: 29 },
            color: function(c) { return c.tick && c.tick.value === threshold ? '#00a000' : '#111'; },
            callback: function(v) { return Number(v).toFixed(2); }
          },
          title: {
            display: true,
            text: 'log10(1/p)',
            color: '#333',
            font: { family: 'Noto Sans', size: 40, weight: '300' },
            padding: { top: 26, bottom: 0 }
          }
        },
        yRight: {
          position: 'right',
          display: true,
          min: yRange[0],
          max: yRange[1],
          afterFit: function(s) { s.width = canvasBox.l + canvasBox.w - area.right; },
          border: { color: '#000', width: 3 },
          grid: { display: false },
          ticks: { display: false }
        }
      }
    }
  });
}

makePanel('chartA', { l: 0, t: 0, w: 1500, h: 1560 }, { left: 213, right: 1433, top: 133, bottom: 1354 },
  [-0.76, 84.98], [-0.213, 21.43], xTicksA, 'Chromosome 15 (Mb)', 37, massA, snpsA.concat(lowA));
makePanel('chartB', { l: 1528, t: 0, w: 1488, h: 1560 }, { left: 1741, right: 2959, top: 133, bottom: 1354 },
  [-0.67, 62.81], [-0.213, 21.43], xTicksB, 'Chromosome 24 (Mb)', 37, massB, snpsB.concat(lowB));
makePanel('chartC', { l: 0, t: 1620, w: 1500, h: 1564 }, { left: 213, right: 1438, top: 1766, bottom: 2995 },
  [-1.54, 134.85], [-0.229, 21.41], xTicksC, 'Chromosome 31 (Mb)', 21, massC, snpsC.concat(lowC));
makePanel('chartD', { l: 1528, t: 1620, w: 1488, h: 1564 }, { left: 1741, right: 2965, top: 1766, bottom: 2995 },
  [-1.2, 119.65], [-0.229, 21.41], xTicksD, 'Chromosome 6 (Mb)', 21, massD, snpsD.concat(lowD));
</script>
</body>
</html>
